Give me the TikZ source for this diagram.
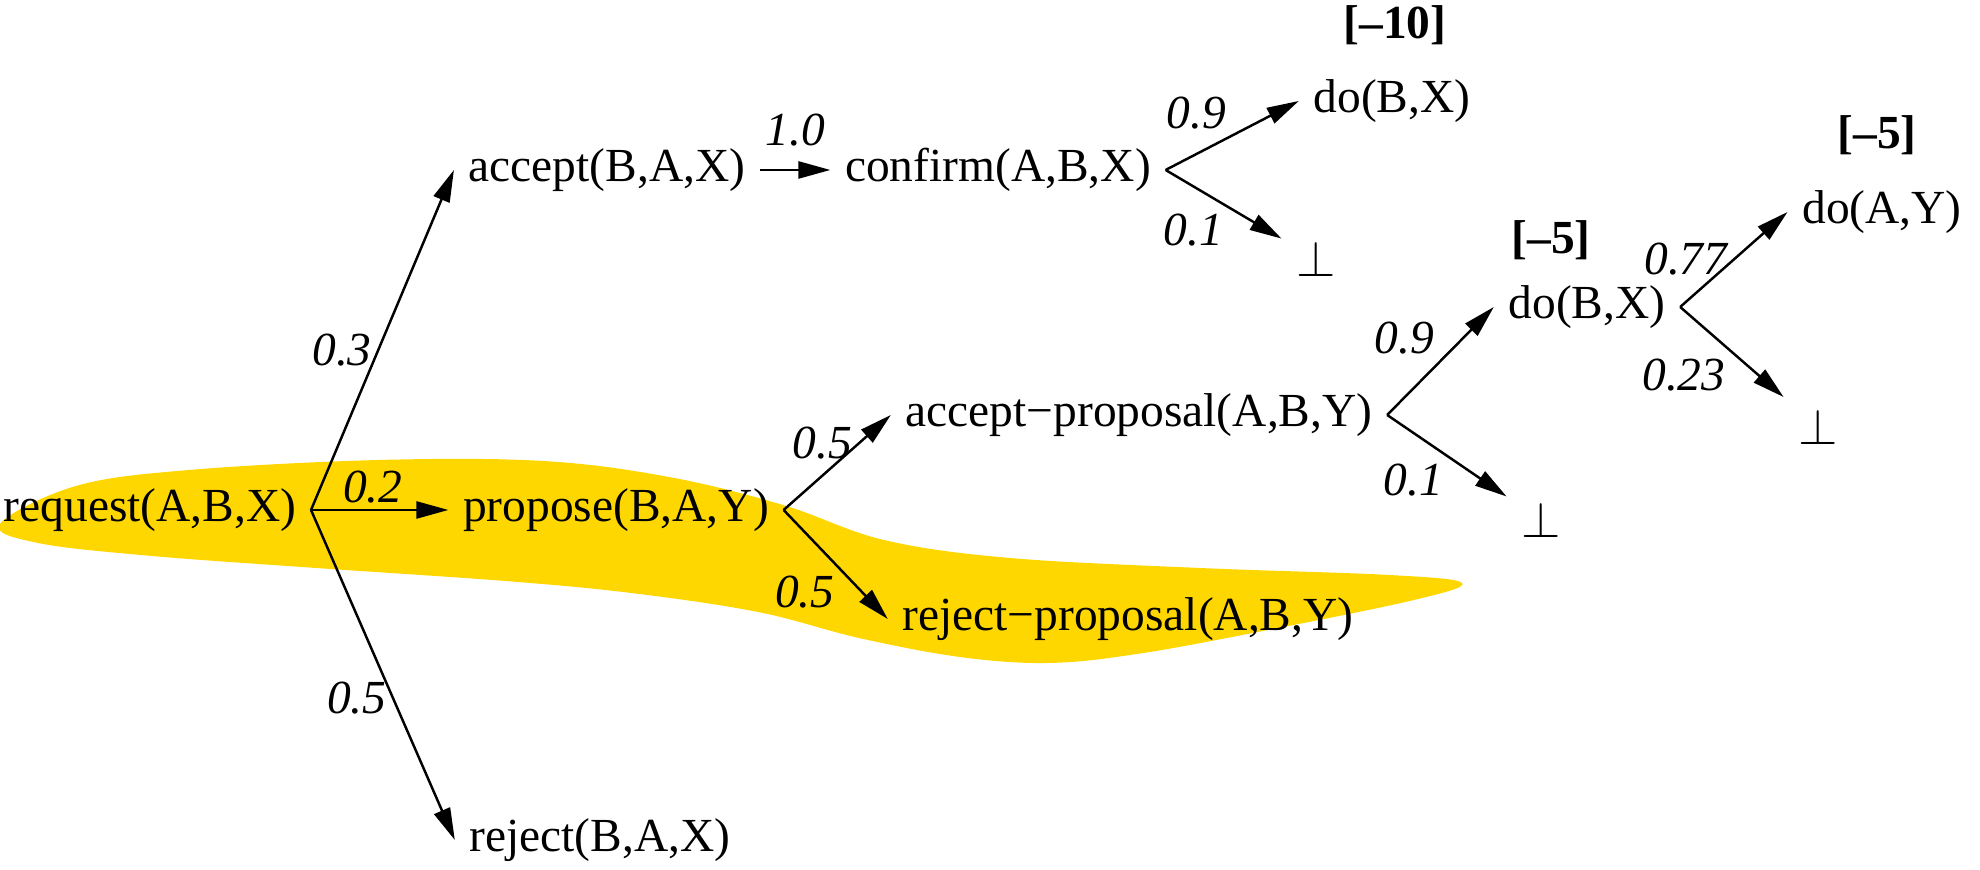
\documentclass[tikz,border=0pt]{standalone}
\usepackage{fontspec}
\setmainfont{Liberation Serif}
\usepackage{tikz}
\usetikzlibrary{arrows.meta}
\definecolor{blob}{RGB}{255,215,0}

\begin{document}
\begin{tikzpicture}[
    act/.style={inner sep=4pt, font=\fontsize{13.5}{16}\selectfont},
    lbl/.style={inner sep=1.5pt, font=\fontsize{13.5}{16}\selectfont\itshape},
    cost/.style={inner sep=1pt, font=\fontsize{13.5}{16}\selectfont\bfseries},
    arr/.style={-{Triangle[length=0.32cm,width=0.17cm]}, line width=0.7pt}]
    \useasboundingbox (0,0) rectangle (19.8,8.7);
    % highlighted path
    \fill[blob] plot[smooth cycle, tension=0.6] coordinates {
        (0,3.46) (0.76,3.84) (1.89,4.00) (3.79,4.10) (5.43,4.09) (6.69,3.93)
        (7.83,3.65) (8.84,3.30) (10.10,3.12) (12.00,3.02) (13.89,2.95) (14.62,2.87)
        (14.14,2.70) (12.63,2.39) (11.37,2.16) (10.48,2.07) (9.60,2.13) (8.59,2.32)
        (7.58,2.58) (6.31,2.77) (5.05,2.89) (3.16,3.02) (1.52,3.14) (0.38,3.27)};
    % messages
    \node[act] (req) at (1.50,3.60) {request(A,B,X)};
    \node[act] (acc) at (6.07,7.00) {accept(B,A,X)};
    \node[act] (prop) at (6.16,3.60) {propose(B,A,Y)};
    \node[act] (rej) at (6.00,0.30) {reject(B,A,X)};
    \node[act] (conf) at (9.98,7.00) {confirm(A,B,X)};
    \node[act] (doBXa) at (13.92,7.69) {do(B,X)};
    \node[act] (botA) at (13.16,6.11) {$\bot$};
    \node[act] (accprop) at (11.39,4.55) {accept−proposal(A,B,Y)};
    \node[act] (rejprop) at (11.28,2.51) {reject−proposal(A,B,Y)};
    \node[act] (doBXb) at (15.87,5.63) {do(B,X)};
    \node[act] (botB) at (15.41,3.50) {$\bot$};
    \node[act] (doAY) at (18.82,6.58) {do(A,Y)};
    \node[act] (botC) at (18.18,4.43) {$\bot$};
    % costs
    \node[cost] (costA) at (13.95,8.45) {[--10]};
    \node[cost] (costB) at (15.51,6.30) {[--5]};
    \node[cost] (costC) at (18.77,7.35) {[--5]};
    % transitions
    \draw[arr] (req.east) -- node[lbl, pos=0.47, left] {0.3} (acc.west);
    \draw[arr] (req.east) -- node[lbl, pos=0.45, above] {0.2} (prop.west);
    \draw[arr] (req.east) -- node[lbl, pos=0.57, left] {0.5} (rej.west);
    \draw[arr] (acc.east) -- node[lbl, above=5pt] {1.0} (conf.west);
    \draw[arr] (conf.east) -- node[lbl, pos=0.5, above left] {0.9} (doBXa.west);
    \draw[arr] (conf.east) -- node[lbl, pos=0.55, below left] {0.1} (botA);
    \draw[arr] (prop.east) -- node[lbl, pos=0.7, left] {0.5} (accprop.west);
    \draw[arr] (prop.east) -- node[lbl, pos=0.55, below left] {0.5} (rejprop.west);
    \draw[arr] (accprop.east) -- node[lbl, pos=0.5, above left] {0.9} (doBXb.west);
    \draw[arr] (accprop.east) -- node[lbl, pos=0.52, below left] {0.1} (botB);
    \draw[arr] (doBXb.east) -- node[lbl, pos=0.5, left] {0.77} (doAY.west);
    \draw[arr] (doBXb.east) -- node[lbl, pos=0.5, below left] {0.23} (botC);
\end{tikzpicture}
\end{document}
